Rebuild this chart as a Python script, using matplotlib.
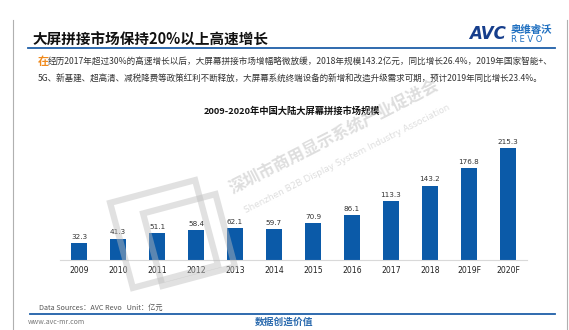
import matplotlib
matplotlib.use('Agg')
import matplotlib.pyplot as plt
from matplotlib.patches import Rectangle
import matplotlib.transforms as mtransforms

plt.rcParams['font.family'] = ['Noto Sans CJK SC', 'DejaVu Sans']

# data
years = ['2009', '2010', '2011', '2012', '2013', '2014', '2015', '2016',
         '2017', '2018', '2019F', '2020F']
market = [32.3, 41.3, 51.1, 58.4, 62.1, 59.7, 70.9, 86.1, 113.3, 143.2, 176.8, 215.3]

title = '大屏拼接市场保持20%以上高速增长'
body1 = '经历2017年超过30%的高速增长以后，大屏幕拼接市场增幅略微放缓，2018年规模143.2亿元，同比增长26.4%，2019年国家智能+、'
body2 = '5G、新基建、超高清、减税降费等政策红利不断释放，大屏幕系统终端设备的新增和改造升级需求可期，预计2019年同比增长23.4%。'
chart_title = '2009-2020年中国大陆大屏幕拼接市场规模'
source = 'Data Sources：AVC Revo   Unit：亿元'

W, H = 569, 330
blue = '#0B5AA8'
line_blue = '#1F5FA8'

fig = plt.figure(figsize=(W / 100, H / 100), dpi=100)
fig.patch.set_facecolor('white')

# bar chart
ax = fig.add_axes([60 / W, 70 / H, 467 / W, 130 / H])
x = range(len(years))
bars = ax.bar(x, market, width=0.41, color=blue, zorder=2)
for xi, v in zip(x, market):
    ax.text(xi, v + 6, f'{v:.1f}', ha='center', va='bottom', fontsize=5.2,
            color='#333333', family='DejaVu Sans')
ax.set_xlim(-0.49, len(years) - 0.51)
ax.set_ylim(0, 250)
ax.set_xticks(list(x))
ax.set_xticklabels(years, fontsize=5.6, color='#222222', family='DejaVu Sans')
ax.tick_params(axis='x', length=0, pad=4)
ax.set_yticks([])
for s in ['top', 'right', 'left']:
    ax.spines[s].set_visible(False)
ax.spines['bottom'].set_color('#d9d9d9')
ax.spines['bottom'].set_linewidth(0.8)
ax.patch.set_alpha(0)

# overlay in pixel coordinates
ov = fig.add_axes([0, 0, 1, 1])
ov.set_xlim(0, W)
ov.set_ylim(H, 0)
ov.axis('off')
ov.patch.set_alpha(0)

# frame lines
ov.plot([13, 13], [20, H], color='#b0b0b0', lw=0.8)
ov.plot([567, 567], [20, H], color='#b0b0b0', lw=0.8)
ov.plot([28, 555], [47.5, 47.5], color=line_blue, lw=1.3)
ov.plot([30, 555], [314, 314], color=line_blue, lw=1.3)

# heading and body
ov.text(33, 40, title, fontsize=10.5, fontweight='bold', va='center', ha='left', color='#111111')
ov.text(38, 61, '在', fontsize=8, fontweight='bold', va='center', ha='left', color='#F08A1C')
ov.text(48, 61.5, body1, fontsize=6.2, va='center', ha='left', color='#333333')
ov.text(38, 78.5, body2, fontsize=6.15, va='center', ha='left', color='#333333')
ov.text(292, 111, chart_title, fontsize=6.7, fontweight='bold', va='center', ha='center', color='#111111')

# logo
ov.text(469, 34, 'AVC', fontsize=12, fontweight='bold', fontstyle='italic', va='center', ha='left',
        color='#163E8C', family='DejaVu Sans')
ov.text(511, 29.5, '奥维睿沃', fontsize=7.5, fontweight='bold', va='center', ha='left', color='#1E6FC0')
ov.text(511, 39.5, 'R E V O', fontsize=6, va='center', ha='left', color='#1E6FC0', family='DejaVu Sans')

# footer
ov.text(39, 308, source, fontsize=5.2, va='center', ha='left', color='#555555')
ov.text(28, 322, 'www.avc-mr.com', fontsize=5, va='center', ha='left', color='#777777')
ov.text(255, 322, '数据创造价值', fontsize=7, fontweight='bold', va='center', ha='left', color='#2A6AAE')

# watermark
wm = '#bdbdbd'
for (cx, cy, side) in [(164, 234, 88), (189, 240, 75)]:
    tr = mtransforms.Affine2D().rotate_deg_around(cx, cy, -15) + ov.transData
    ov.add_patch(Rectangle((cx - side / 2, cy - side / 2), side, side, fill=False,
                           ec=wm, lw=4.5, alpha=0.45, transform=tr))
ov.text(334, 137, '深圳市商用显示系统产业促进会', fontsize=12, fontweight='bold', rotation=27,
        ha='center', va='center', color=wm, alpha=0.5, rotation_mode='anchor')
ov.text(347, 159, 'Shenzhen B2B Display System Industry Association', fontsize=6.4, rotation=27,
        ha='center', va='center', color=wm, alpha=0.5, rotation_mode='anchor', family='DejaVu Sans')

fig.savefig('out.png', dpi=100)
